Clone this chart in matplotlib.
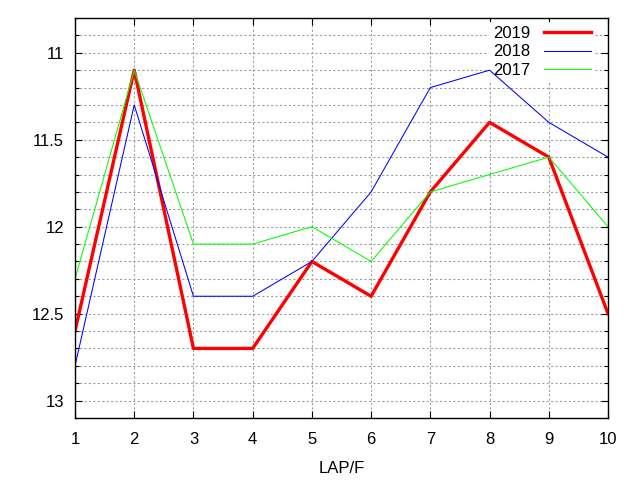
import matplotlib
matplotlib.use("Agg")
import matplotlib.pyplot as plt
from matplotlib.ticker import MultipleLocator

plt.rcParams['font.family'] = ['Liberation Sans', 'DejaVu Sans']

laps = [1, 2, 3, 4, 5, 6, 7, 8, 9, 10]
y2019 = [12.6, 11.1, 12.7, 12.7, 12.2, 12.4, 11.8, 11.4, 11.6, 12.5]
y2018 = [12.8, 11.3, 12.4, 12.4, 12.2, 11.8, 11.2, 11.1, 11.4, 11.6]
y2017 = [12.3, 11.1, 12.1, 12.1, 12.0, 12.2, 11.8, 11.7, 11.6, 12.0]
series_labels = ["2019", "2018", "2017"]
x_label = "LAP/F"

fig = plt.figure(figsize=(6.4, 4.8), dpi=100)
ax = fig.add_axes([75/640, 1-418/480, (608-75)/640, (418-18)/480])

ax.plot(laps, y2019, color='#ff0000', lw=2.4, label=series_labels[0], zorder=3)
ax.plot(laps, y2018, color='#0000ff', lw=0.75, label=series_labels[1], zorder=3)
ax.plot(laps, y2017, color='#00ff00', lw=0.75, label=series_labels[2], zorder=3)

ax.set_xlim(1, 10)
ax.set_ylim(13.1, 10.8)
ax.xaxis.set_major_locator(MultipleLocator(1))
ax.yaxis.set_major_locator(MultipleLocator(0.5))
ax.yaxis.set_minor_locator(MultipleLocator(0.1))
ax.yaxis.set_major_formatter(plt.FuncFormatter(lambda v, p: ('%g' % round(v, 2))))

ax.tick_params(which='both', direction='in', top=True, right=True, labelsize=12, colors='black')
ax.tick_params(which='major', length=5, width=0.8, pad=8)
ax.tick_params(which='minor', length=3, width=0.8)
ax.tick_params(axis='x', pad=10)

ax.grid(which='major', axis='x', color='#a0a0a0', linestyle=(0, (2, 2)), linewidth=0.8, zorder=1)
ax.grid(which='both', axis='y', color='#a0a0a0', linestyle=(0, (2, 2)), linewidth=0.8, zorder=1)
ax.set_axisbelow(True)
for s in ax.spines.values():
    s.set_linewidth(1.0)
    s.set_zorder(4)

ax.set_xlabel(x_label, fontsize=12, labelpad=10)

leg = ax.legend(loc='upper right', bbox_to_anchor=(0.976, 0.99), markerfirst=False,
                frameon=True, fontsize=12,
                facecolor='white', edgecolor='none', framealpha=1, fancybox=False,
                handlelength=2.8, handletextpad=0.85, borderpad=0.25, labelspacing=0.2,
                borderaxespad=0.0)
leg.set_zorder(2.5)

fig.savefig("out.png", dpi=100)
